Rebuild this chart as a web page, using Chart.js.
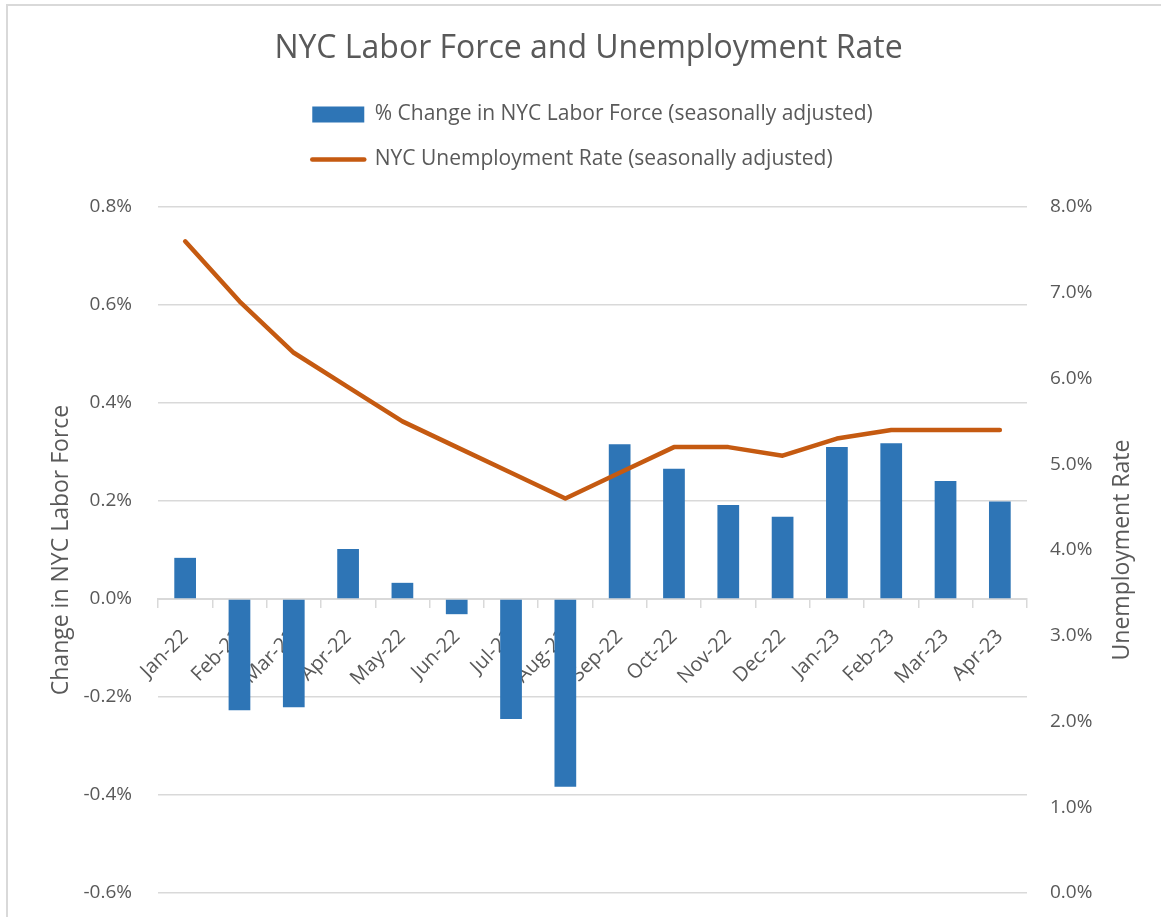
<!DOCTYPE html>
<html>
<head>
<meta charset="utf-8">
<title>NYC Labor Force and Unemployment Rate</title>
<script src="https://cdn.jsdelivr.net/npm/chart.js@4.4.0/dist/chart.umd.min.js"></script>
<style>
  html, body { margin: 0; padding: 0; background: #fff; }
  #wrap { position: relative; width: 1161px; height: 917px; overflow: hidden; }
  #frame { position: absolute; left: 6px; top: 4px; right: -4px; bottom: -4px; border-left: 2px solid #d9d9d9; border-top: 2px solid #d9d9d9; }
  canvas { position: absolute; left: 0; top: 0; }
</style>
</head>
<body>
<div id="wrap">
  <div id="frame"></div>
  <canvas id="myChart" width="1161" height="917"></canvas>
</div>
<script>
// ---- data
var months = ['Jan-22', 'Feb-22', 'Mar-22', 'Apr-22', 'May-22', 'Jun-22', 'Jul-22', 'Aug-22',
  'Sep-22', 'Oct-22', 'Nov-22', 'Dec-22', 'Jan-23', 'Feb-23', 'Mar-23', 'Apr-23'];
var laborForceChange = [0.084, -0.227, -0.221, 0.102, 0.033, -0.031, -0.245, -0.383,
  0.316, 0.266, 0.192, 0.168, 0.310, 0.318, 0.241, 0.199];
var unemploymentRate = [7.6, 6.9, 6.3, 5.9, 5.5, 5.2, 4.9, 4.6,
  4.9, 5.2, 5.2, 5.1, 5.3, 5.4, 5.4, 5.4];
var leftTicks = [-0.6, -0.4, -0.2, 0.0, 0.2, 0.4, 0.6, 0.8];
var rightTicks = [0, 1, 2, 3, 4, 5, 6, 7, 8];

var grey = '#595959';
var gridGrey = '#d9d9d9';
Chart.defaults.font.family = "'Open Sans', 'Noto Sans', sans-serif";
Chart.defaults.color = grey;

// keep both legend rows starting at the same x (like excel)
var legendRowAlign = {
  id: 'legendRowAlign',
  afterLayout: function (chart) {
    var lg = chart.legend;
    if (!lg || !lg.lineWidths) return;
    var w = Math.max.apply(null, lg.lineWidths);
    lg.lineWidths = lg.lineWidths.map(function () { return w; });
  }
};

// right axis title reads bottom-to-top in the original
var rightAxisTitle = {
  id: 'rightAxisTitle',
  afterDraw: function (chart) {
    var s = chart.scales.y1;
    var ctx = chart.ctx;
    ctx.save();
    ctx.translate(s.right - 39, (chart.chartArea.top + chart.chartArea.bottom) / 2);
    ctx.rotate(-Math.PI / 2);
    ctx.font = "23px 'Open Sans', 'Noto Sans', sans-serif";
    ctx.fillStyle = grey;
    ctx.textAlign = 'center';
    ctx.textBaseline = 'middle';
    ctx.fillText('Unemployment Rate', 0, 0);
    ctx.restore();
  }
};

var ctx = document.getElementById('myChart');
var myChart = new Chart(ctx, {
  type: 'bar',
  data: {
    labels: months,
    datasets: [{
      type: 'bar',
      label: '% Change in NYC Labor Force (seasonally adjusted)',
      data: laborForceChange,
      yAxisID: 'y',
      backgroundColor: '#2E75B6',
      barPercentage: 0.4,
      categoryPercentage: 1,
      order: 1
    }, {
      type: 'line',
      label: 'NYC Unemployment Rate (seasonally adjusted)',
      data: unemploymentRate,
      yAxisID: 'y1',
      borderColor: '#C55A11',
      backgroundColor: '#C55A11',
      borderWidth: 4.5,
      borderCapStyle: 'round',
      borderJoinStyle: 'round',
      pointRadius: 0,
      tension: 0,
      order: 0
    }]
  },
  options: {
    responsive: false,
    animation: false,
    layout: { padding: { left: 16, right: 0, top: 0, bottom: 0 } },
    plugins: {
      tooltip: { enabled: false },
      title: {
        display: true,
        text: 'NYC Labor Force and Unemployment Rate',
        color: grey,
        font: { size: 32, weight: 'normal' },
        padding: { top: 30, bottom: 11.6 }
      },
      // empty spacer under the legend, keeps the plot top where excel has it
      subtitle: {
        display: true,
        text: '',
        weight: 500,
        font: { size: 10 },
        padding: { top: 0, bottom: 15 }
      },
      legend: {
        position: 'top',
        fullSize: false,
        labels: {
          color: grey,
          font: { size: 21 },
          usePointStyle: true,
          pointStyleWidth: 52,
          boxHeight: 16,
          padding: 24,
          generateLabels: function (chart) {
            var items = Chart.defaults.plugins.legend.labels.generateLabels(chart);
            items.sort(function (a, b) { return a.datasetIndex - b.datasetIndex; });
            items[0].pointStyle = 'rect';
            items[0].lineWidth = 0;
            items[1].pointStyle = 'line';
            items[1].lineWidth = 4.5;
            items[1].lineCap = 'round';
            return items;
          }
        }
      }
    },
    scales: {
      x: {
        position: { y: 0 },
        offset: true,
        grid: { drawOnChartArea: false, drawTicks: true, tickLength: 8, color: gridGrey, lineWidth: 1.5 },
        border: { display: true, color: gridGrey, width: 2 },
        ticks: { minRotation: 45, maxRotation: 45, padding: 18, color: grey, font: { size: 20 } },
        afterFit: function (scale) { scale.height = 0; }
      },
      y: {
        position: 'left',
        min: -0.6,
        max: 0.8,
        afterBuildTicks: function (scale) {
          scale.ticks = leftTicks.map(function (v) { return { value: v }; });
        },
        ticks: {
          padding: 26,
          color: grey,
          font: { size: 19 },
          callback: function (v) { return v.toFixed(1) + '%'; }
        },
        grid: { color: gridGrey, lineWidth: 1.5, drawTicks: false },
        border: { display: false },
        title: {
          display: true,
          text: 'Change in NYC Labor Force',
          color: grey,
          font: { size: 23 },
          padding: { top: 32, bottom: 0 }
        },
        afterFit: function (scale) {
          scale.width = 142;
          scale.paddingBottom = 24;
        }
      },
      y1: {
        position: 'right',
        min: 0,
        max: 8,
        afterBuildTicks: function (scale) {
          scale.ticks = rightTicks.map(function (v) { return { value: v }; });
        },
        ticks: {
          padding: 23,
          color: grey,
          font: { size: 19 },
          callback: function (v) { return v.toFixed(1) + '%'; }
        },
        grid: { drawOnChartArea: false, drawTicks: false },
        border: { display: false },
        afterFit: function (scale) {
          scale.width = 134;
          scale.paddingBottom = 24;
        }
      }
    }
  },
  plugins: [legendRowAlign, rightAxisTitle]
});
</script>
</body>
</html>
